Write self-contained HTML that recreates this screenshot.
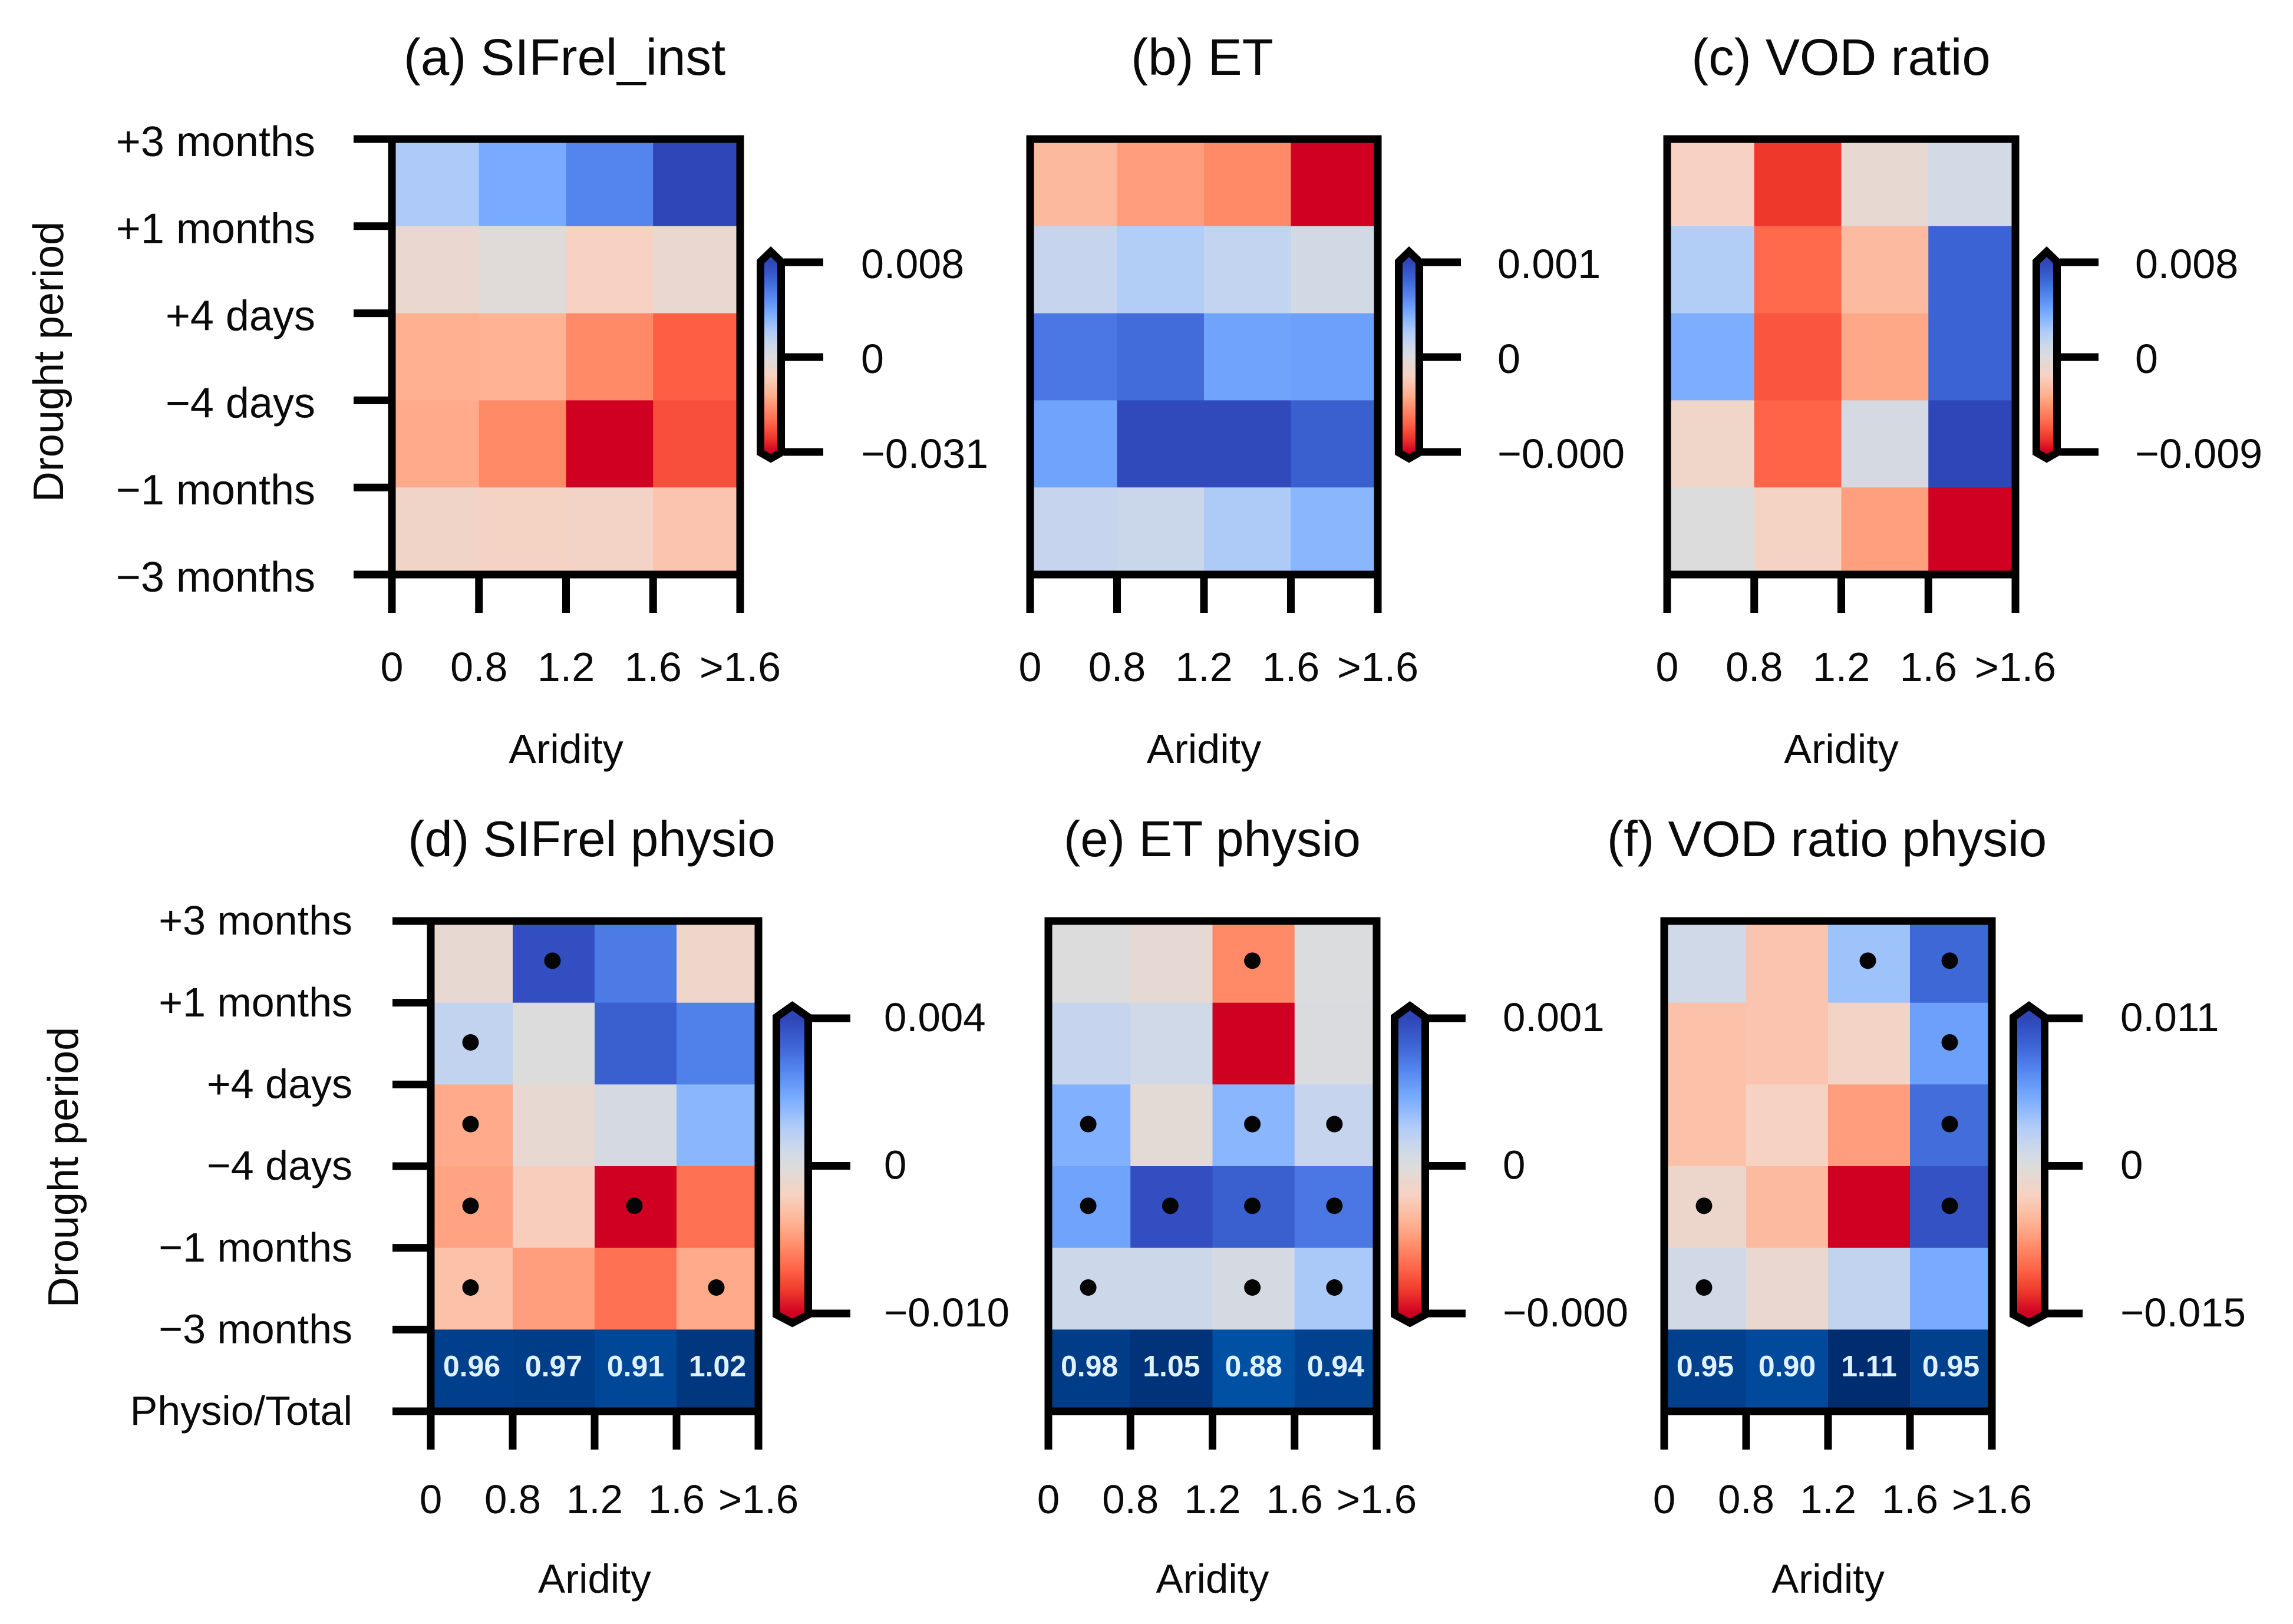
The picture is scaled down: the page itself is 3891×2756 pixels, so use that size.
<!DOCTYPE html>
<html lang="en">
<head>
<meta charset="utf-8">
<title>Drought response heatmaps</title>
<style>
html,body{margin:0;padding:0;background:#fff;}
svg{display:block;}
text{font-family:"Liberation Sans",Arial,sans-serif;fill:#0a0a0a;}
</style>
</head>
<body>
<svg id="figure" xmlns="http://www.w3.org/2000/svg" width="3891" height="2756" viewBox="0 0 3891 2756">
<rect x="0" y="0" width="3891" height="2756" fill="#ffffff"/>
</svg>
<script>
// ---- categories and tick labels ----
const periodLabels = ['+3 months', '+1 months', '+4 days', '\u22124 days', '\u22121 months', '\u22123 months'];
const periodLabelsPhysio = ['+3 months', '+1 months', '+4 days', '\u22124 days', '\u22121 months', '\u22123 months', 'Physio/Total'];
const aridityLabels = ['0', '0.8', '1.2', '1.6', '>1.6'];

// ---- panel (a) ----
const sifInstValues = [
  [0.0022, 0.0037, 0.0052, 0.0080],
  [-0.0031, -0.0009, -0.0062, -0.0031],
  [-0.0124, -0.0118, -0.0171, -0.0223],
  [-0.0130, -0.0171, -0.0310, -0.0239],
  [-0.0047, -0.0056, -0.0053, -0.0087]
];
const sifInstRange = [-0.031, 0.008];
const sifInstBarLabels = ['0.008', '0', '\u22120.031'];

// ---- panel (b) ----
const etValues = [
  [-0.00014, -0.00019, -0.00022, -0.00040],
  [0.00015, 0.00025, 0.00017, 0.00008],
  [0.00072, 0.00078, 0.00050, 0.00052],
  [0.00050, 0.00098, 0.00098, 0.00085],
  [0.00015, 0.00013, 0.00027, 0.00040]
];
const etRange = [-0.0004, 0.001];
const etBarLabels = ['0.001', '0', '\u22120.000'];

// ---- panel (c) ----
const vodValues = [
  [-0.0018, -0.00765, -0.0007, 0.0006],
  [0.0020, -0.0061, -0.0030, 0.0066],
  [0.0036, -0.00675, -0.0039, 0.0066],
  [-0.00135, -0.0063, 0.0004, 0.0080],
  [0.0000, -0.0016, -0.0042, -0.0090]
];
const vodRange = [-0.009, 0.008];
const vodBarLabels = ['0.008', '0', '\u22120.009'];

// ---- panel (d) ----
const sifPhysioValues = [
  [-0.0008, 0.0038, 0.0028, -0.0013],
  [0.0007, 0.0000, 0.0034, 0.0027],
  [-0.0042, -0.0008, 0.0002, 0.0016],
  [-0.0045, -0.0023, -0.0100, -0.0065],
  [-0.0030, -0.0047, -0.0065, -0.0042]
];
const sifPhysioSignificant = [
  [0, 1, 0, 0],
  [1, 0, 0, 0],
  [1, 0, 0, 0],
  [1, 0, 1, 0],
  [1, 0, 0, 1]
];
const sifPhysioRatio = [0.96, 0.97, 0.91, 1.02];
const sifPhysioRange = [-0.010, 0.004];
const sifPhysioBarLabels = ['0.004', '0', '\u22120.010'];

// ---- panel (e) ----
const etPhysioValues = [
  [0.00000, -0.00003, -0.00022, 0.00001],
  [0.00015, 0.00010, -0.00040, 0.00002],
  [0.00043, -0.00002, 0.00040, 0.00015],
  [0.00050, 0.00095, 0.00085, 0.00072],
  [0.00012, 0.00012, 0.00005, 0.00028]
];
const etPhysioSignificant = [
  [0, 0, 1, 0],
  [0, 0, 0, 0],
  [1, 0, 1, 1],
  [1, 1, 1, 1],
  [1, 0, 1, 1]
];
const etPhysioRatio = [0.98, 1.05, 0.88, 0.94];
const etPhysioRange = [-0.0004, 0.001];
const etPhysioBarLabels = ['0.001', '0', '\u22120.000'];

// ---- panel (f) ----
const vodPhysioValues = [
  [0.0011, -0.0042, 0.0036, 0.0088],
  [-0.0045, -0.0042, -0.0026, 0.0057],
  [-0.0045, -0.0029, -0.0071, 0.0085],
  [-0.0018, -0.0050, -0.0150, 0.0102],
  [0.0009, -0.0014, 0.0019, 0.0051]
];
const vodPhysioSignificant = [
  [0, 0, 1, 1],
  [0, 0, 0, 1],
  [0, 0, 0, 1],
  [1, 0, 0, 1],
  [1, 0, 0, 0]
];
const vodPhysioRatio = [0.95, 0.90, 1.11, 0.95];
const vodPhysioRange = [-0.015, 0.011];
const vodPhysioBarLabels = ['0.011', '0', '\u22120.015'];

// ---- rendering ----
const NS = 'http://www.w3.org/2000/svg';
const svg = document.getElementById('figure');
const colorStops = [
  [-1.00, [207, 0, 34]],
  [-0.85, [238, 56, 44]],
  [-0.70, [255, 100, 72]],
  [-0.55, [255, 138, 104]],
  [-0.40, [255, 176, 144]],
  [-0.20, [247, 210, 194]],
  [0.00, [220, 220, 220]],
  [0.12, [204, 216, 234]],
  [0.27, [174, 203, 248]],
  [0.47, [118, 170, 255]],
  [0.65, [84, 133, 238]],
  [0.82, [60, 100, 212]],
  [1.00, [47, 70, 184]]
];

function cmap(t) {
  const c = Math.max(-1, Math.min(1, t));
  for (let i = 1; i < colorStops.length; i++) {
    if (c <= colorStops[i][0]) {
      const a = colorStops[i - 1];
      const b = colorStops[i];
      const f = (c - a[0]) / (b[0] - a[0]);
      const rgb = a[1].map(function (v, k) { return Math.round(v + (b[1][k] - v) * f); });
      return 'rgb(' + rgb.join(',') + ')';
    }
  }
  return 'rgb(47,70,184)';
}

function ratioColor(r) {
  const f = Math.pow(Math.max(0, Math.min(1, (r - 0.88) / (1.11 - 0.88))), 0.7);
  const from = [0, 80, 164];
  const to = [0, 44, 112];
  return 'rgb(' + from.map(function (v, k) { return Math.round(v + (to[k] - v) * f); }).join(',') + ')';
}

function make(tag, attrs, parent) {
  const el = document.createElementNS(NS, tag);
  for (const k in attrs) el.setAttribute(k, attrs[k]);
  parent.appendChild(el);
  return el;
}

function normalize(v, range) {
  return v >= 0 ? v / range[1] : v / -range[0];
}

function drawPanel(p, d) {
  const group = make('g', {}, svg);
  
  

  const nRows = d.yLabels.length - 1;
  const xScale = function (i) { return p.left + i * (p.right - p.left) / 4; };
  const yScale = function (j) { return p.top + j * (p.bottom - p.top) / nRows; };

  // heatmap cells
  d.values.forEach(function (row, j) {
    row.forEach(function (v, i) {
      const cell = make('rect', {
        x: xScale(i), y: yScale(j),
        width: xScale(i + 1) - xScale(i) + 0.5,
        height: yScale(j + 1) - yScale(j) + 0.5,
        fill: cmap(normalize(v, d.range))
      }, group);
      
      
    });
  });

  // ratio row
  if (d.ratio) {
    d.ratio.forEach(function (r, i) {
      const cell = make('rect', {
        x: xScale(i), y: yScale(nRows - 1),
        width: xScale(i + 1) - xScale(i) + 0.5,
        height: yScale(nRows) - yScale(nRows - 1),
        fill: ratioColor(r)
      }, group);
      
      
      const label = make('text', {
        x: (xScale(i) + xScale(i + 1)) / 2,
        y: yScale(nRows - 1) + 79,
        'text-anchor': 'middle',
        'font-size': 50,
        'font-weight': 'bold',
        style: 'fill:#dff0ff'
      }, group);
      
      
      label.textContent = r.toFixed(2);
    });
  }

  // significance dots
  if (d.significant) {
    d.significant.forEach(function (row, j) {
      row.forEach(function (s, i) {
        if (!s) return;
        const dot = make('circle', {
          cx: (xScale(i) + xScale(i + 1)) / 2 - 2,
          cy: (yScale(j) + yScale(j + 1)) / 2 - 2,
          r: 14,
          fill: '#050505'
        }, group);
        
        
      });
    });
  }

  // y ticks and labels (left-column panels only)
  if (d.showY) {
    d.yLabels.forEach(function (lab, j) {
      const tick = make('line', {
        x1: p.left - 65, x2: p.left, y1: yScale(j), y2: yScale(j),
        stroke: '#000', 'stroke-width': 13
      }, group);
      
      
      const t = make('text', {
        x: p.left - 65 - p.yLabelGap,
        y: yScale(j) + p.yFont * 0.36 + p.yLabelDy,
        'text-anchor': 'end',
        'font-size': p.yFont
      }, group);
      
      
      t.textContent = lab;
    });
  }

  // x ticks and labels
  aridityLabels.forEach(function (lab, i) {
    const tick = make('line', {
      x1: xScale(i), x2: xScale(i), y1: p.bottom, y2: p.bottom + 65,
      stroke: '#000', 'stroke-width': 13
    }, group);
    
    
    const t = make('text', {
      x: xScale(i), y: p.xLabelY + p.xFont * 0.36,
      'text-anchor': 'middle', 'font-size': p.xFont
    }, group);
    
    
    t.textContent = lab;
  });

  // frame
  const frame = make('rect', {
    x: p.left, y: p.top, width: p.right - p.left, height: p.bottom - p.top,
    fill: 'none', stroke: '#000', 'stroke-width': 13
  }, group);
  
  

  // x-axis title
  const xTitle = make('text', {
    x: (p.left + p.right) / 2, y: p.xTitleY + p.xFont * 0.36,
    'text-anchor': 'middle', 'font-size': p.xFont
  }, group);
  
  
  xTitle.textContent = 'Aridity';

  // panel title
  const title = make('text', {
    x: p.titleX, y: p.titleY, 'text-anchor': 'middle', 'font-size': p.titleFont
  }, group);
  
  
  title.textContent = d.title;

  // y-axis title
  if (d.showY) {
    const yTitle = make('text', {
      x: 0, y: 0, 'text-anchor': 'middle', 'font-size': 72,
      transform: 'translate(' + (p.yTitleX + 26) + ',' + p.yTitleY + ') rotate(-90)'
    }, group);
    
    
    yTitle.textContent = 'Drought period';
  }

  // colour bar
  const cbScale = function (v) {
    const mid = (p.cbTop + p.cbBottom) / 2;
    return mid - normalize(v, d.range) * (p.cbBottom - p.cbTop) / 2;
  };
  const defs = make('defs', {}, group);
  const grad = make('linearGradient', {
    id: 'cb-' + d.id, gradientUnits: 'userSpaceOnUse',
    x1: 0, x2: 0, y1: cbScale(d.range[1]), y2: cbScale(d.range[0])
  }, defs);
  colorStops.slice().reverse().forEach(function (s) {
    make('stop', {
      offset: (1 - s[0]) / 2,
      'stop-color': 'rgb(' + s[1].join(',') + ')'
    }, grad);
  });
  const x0 = p.cbLeft + 6.5;
  const x1 = p.cbRight - 6.5;
  const xm = (x0 + x1) / 2;
  const tipTop = p.cbTipTop + 12;
  const tipBottom = p.cbTipBottom - 12;
  const shoulderTop = p.cbTop + p.cbShoulder;
  const shoulderBottom = p.cbBottom - p.cbShoulder;
  const bar = make('polygon', {
    points: [[xm, tipTop], [x1, shoulderTop], [x1, shoulderBottom], [xm, tipBottom], [x0, shoulderBottom], [x0, shoulderTop]]
      .map(function (q) { return q.join(','); }).join(' '),
    fill: 'url(#cb-' + d.id + ')', stroke: '#000', 'stroke-width': 13, 'stroke-linejoin': 'miter'
  }, group);
  
  

  const barTicks = [d.range[1], 0, d.range[0]];
  barTicks.forEach(function (v, k) {
    const tick = make('line', {
      x1: p.cbRight - 2, x2: p.cbTickEnd, y1: cbScale(v), y2: cbScale(v),
      stroke: '#000', 'stroke-width': 13
    }, group);
    
    
    const t = make('text', {
      x: p.cbLabelX, y: cbScale(v) + p.cbFont * 0.36 + p.cbLabelDy,
      'font-size': p.cbFont
    }, group);
    
    
    t.textContent = d.barLabels[k];
  });
}

const topRow = {
  top: 236, bottom: 975, xLabelY: 1131, xTitleY: 1270, titleY: 127,
  yFont: 72, xFont: 70, cbFont: 70, titleFont: 87, yLabelGap: 65,
  yLabelDy: 3, cbLabelDy: 2, cbTop: 445, cbBottom: 767,
  cbTipTop: 415, cbTipBottom: 790, cbShoulder: -1
};
const bottomRow = {
  top: 1563, bottom: 2395, xLabelY: 2543, xTitleY: 2678, titleY: 1453,
  yFont: 70, xFont: 69, cbFont: 69, titleFont: 85, yLabelGap: 68,
  yLabelDy: -2, cbLabelDy: -3, cbTop: 1728, cbBottom: 2229,
  cbTipTop: 1695, cbTipBottom: 2257, cbShoulder: -2
};

drawPanel(Object.assign({}, topRow, { left: 665, right: 1256, titleX: 958, yTitleX: 81, yTitleY: 614, cbLeft: 1284, cbRight: 1332, cbTickEnd: 1397, cbLabelX: 1461 }),
  { id: 'a', title: '(a) SIFrel_inst', values: sifInstValues, range: sifInstRange, barLabels: sifInstBarLabels, yLabels: periodLabels, showY: true });
drawPanel(Object.assign({}, topRow, { left: 1748, right: 2338, titleX: 2040, cbLeft: 2367, cbRight: 2415, cbTickEnd: 2479, cbLabelX: 2541 }),
  { id: 'b', title: '(b) ET', values: etValues, range: etRange, barLabels: etBarLabels, yLabels: periodLabels, showY: false });
drawPanel(Object.assign({}, topRow, { left: 2829, right: 3420, titleX: 3124, cbLeft: 3449, cbRight: 3497, cbTickEnd: 3561, cbLabelX: 3623 }),
  { id: 'c', title: '(c) VOD ratio', values: vodValues, range: vodRange, barLabels: vodBarLabels, yLabels: periodLabels, showY: false });
drawPanel(Object.assign({}, bottomRow, { left: 731, right: 1287, titleX: 1004, yTitleX: 106, yTitleY: 1981, cbLeft: 1311, cbRight: 1378, cbTickEnd: 1443, cbLabelX: 1500 }),
  { id: 'd', title: '(d) SIFrel physio', values: sifPhysioValues, significant: sifPhysioSignificant, ratio: sifPhysioRatio, range: sifPhysioRange, barLabels: sifPhysioBarLabels, yLabels: periodLabelsPhysio, showY: true });
drawPanel(Object.assign({}, bottomRow, { left: 1779, right: 2336, titleX: 2057, cbLeft: 2360, cbRight: 2425, cbTickEnd: 2487, cbLabelX: 2550 }),
  { id: 'e', title: '(e) ET physio', values: etPhysioValues, significant: etPhysioSignificant, ratio: etPhysioRatio, range: etPhysioRange, barLabels: etPhysioBarLabels, yLabels: periodLabelsPhysio, showY: false });
drawPanel(Object.assign({}, bottomRow, { left: 2824, right: 3380, titleX: 3100, cbLeft: 3410, cbRight: 3476, cbTickEnd: 3534, cbLabelX: 3598 }),
  { id: 'f', title: '(f) VOD ratio physio', values: vodPhysioValues, significant: vodPhysioSignificant, ratio: vodPhysioRatio, range: vodPhysioRange, barLabels: vodPhysioBarLabels, yLabels: periodLabelsPhysio, showY: false });
</script>
</body>
</html>
